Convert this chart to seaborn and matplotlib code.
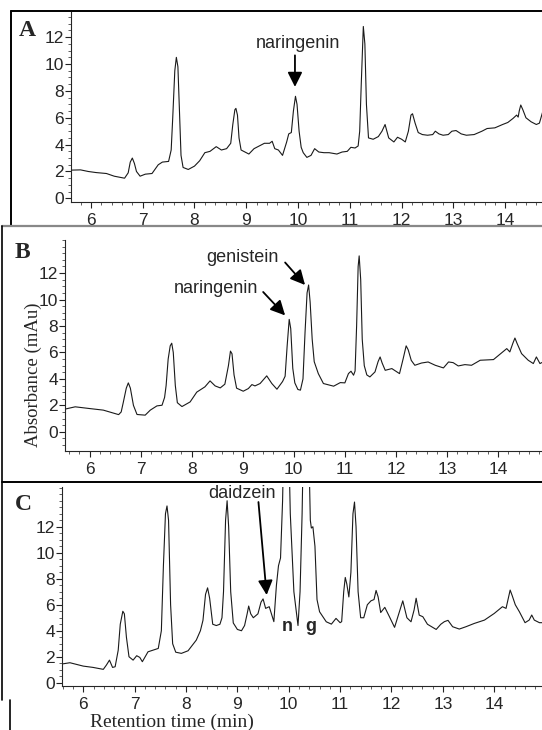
import seaborn as sns
import matplotlib.pyplot as plt
import pandas as pd
from matplotlib.lines import Line2D
from matplotlib.ticker import MultipleLocator

# Panel A - trace (retention time in min, absorbance in mAu)
a_time = [5.60, 5.80, 5.95, 6.10, 6.30, 6.45, 6.65, 6.72, 6.76, 6.80,
          6.84, 6.88, 6.95, 7.05, 7.18, 7.30, 7.38, 7.50, 7.55, 7.58,
          7.62, 7.65, 7.68, 7.71, 7.74, 7.78, 7.88, 8.00, 8.10, 8.20,
          8.30, 8.42, 8.52, 8.62, 8.70, 8.74, 8.78, 8.80, 8.83, 8.86,
          8.90, 9.00, 9.05, 9.15, 9.25, 9.35, 9.45, 9.50, 9.55, 9.62,
          9.70, 9.78, 9.82, 9.87, 9.91, 9.95, 9.98, 10.02, 10.06, 10.10,
          10.17, 10.25, 10.32, 10.40, 10.50, 10.60, 10.75, 10.85, 10.95, 11.02,
          11.10, 11.16, 11.19, 11.22, 11.26, 11.29, 11.32, 11.36, 11.45, 11.55,
          11.62, 11.68, 11.75, 11.85, 11.92, 12.00, 12.07, 12.13, 12.18, 12.21,
          12.26, 12.32, 12.40, 12.50, 12.60, 12.65, 12.72, 12.80, 12.90, 12.97,
          13.05, 13.15, 13.25, 13.40, 13.55, 13.65, 13.80, 13.95, 14.05, 14.15,
          14.22, 14.25, 14.27, 14.30, 14.34, 14.40, 14.50, 14.60, 14.66, 14.72]
a_abs = [2.10, 2.12, 2.00, 1.92, 1.85, 1.65, 1.50, 1.90, 2.70, 3.00,
         2.60, 2.00, 1.65, 1.80, 1.85, 2.50, 2.70, 2.75, 3.60, 6.00,
         9.50, 10.50, 9.80, 6.50, 3.20, 2.30, 2.15, 2.40, 2.80, 3.40,
         3.50, 3.85, 3.60, 3.70, 4.10, 5.50, 6.60, 6.70, 6.20, 4.50,
         3.60, 3.40, 3.30, 3.70, 3.90, 4.10, 4.10, 4.25, 3.70, 3.60,
         3.20, 4.20, 4.80, 4.90, 6.50, 7.60, 7.00, 5.00, 3.80, 3.40,
         3.05, 3.20, 3.70, 3.45, 3.40, 3.40, 3.30, 3.45, 3.50, 3.80,
         3.75, 3.90, 5.00, 8.50, 12.80, 11.50, 7.00, 4.50, 4.40, 4.60,
         5.00, 5.50, 4.50, 4.20, 4.55, 4.40, 4.20, 5.00, 6.20, 6.30,
         5.60, 4.90, 4.75, 4.70, 4.75, 5.00, 4.80, 4.70, 4.75, 5.00,
         5.05, 4.80, 4.70, 4.75, 5.00, 5.20, 5.25, 5.50, 5.65, 5.95,
         6.20, 6.05, 6.50, 6.95, 6.60, 6.00, 5.70, 5.50, 5.60, 6.40]

# Panel B - trace
b_time = [5.50, 5.72, 6.00, 6.27, 6.57, 6.62, 6.66, 6.72, 6.76, 6.80,
          6.86, 6.93, 7.09, 7.19, 7.32, 7.42, 7.47, 7.50, 7.54, 7.58,
          7.61, 7.64, 7.68, 7.72, 7.81, 7.97, 8.10, 8.26, 8.36, 8.46,
          8.56, 8.65, 8.72, 8.76, 8.79, 8.83, 8.88, 9.01, 9.11, 9.18,
          9.24, 9.34, 9.47, 9.57, 9.67, 9.78, 9.83, 9.87, 9.91, 9.94,
          9.98, 10.02, 10.08, 10.13, 10.18, 10.22, 10.26, 10.29, 10.32, 10.36,
          10.40, 10.48, 10.58, 10.78, 10.91, 11.00, 11.07, 11.12, 11.17, 11.20,
          11.23, 11.26, 11.28, 11.31, 11.34, 11.38, 11.43, 11.49, 11.59, 11.65,
          11.69, 11.73, 11.79, 11.92, 12.07, 12.14, 12.20, 12.24, 12.30, 12.37,
          12.50, 12.63, 12.77, 12.93, 13.03, 13.12, 13.22, 13.35, 13.48, 13.65,
          13.91, 14.17, 14.23, 14.29, 14.33, 14.37, 14.46, 14.59, 14.69, 14.75,
          14.82, 14.88]
b_abs = [1.70, 1.89, 1.76, 1.64, 1.30, 1.50, 2.20, 3.30, 3.70, 3.30,
         2.00, 1.31, 1.26, 1.64, 1.96, 2.01, 2.60, 3.50, 5.50, 6.50,
         6.70, 6.00, 3.50, 2.20, 1.91, 2.26, 3.00, 3.40, 3.85, 3.47,
         3.32, 3.60, 5.00, 6.10, 5.90, 4.30, 3.30, 3.07, 3.27, 3.57,
         3.47, 3.65, 4.23, 3.65, 3.22, 3.80, 4.20, 6.50, 8.50, 7.80,
         4.80, 3.70, 3.20, 3.15, 4.00, 7.50, 10.50, 11.10, 9.80, 7.00,
         5.30, 4.40, 3.65, 3.45, 3.72, 3.70, 4.40, 4.58, 4.28, 4.60,
         8.00, 12.50, 13.30, 11.50, 7.00, 5.00, 4.30, 4.15, 4.53, 5.30,
         5.66, 5.20, 4.65, 4.78, 4.40, 5.50, 6.50, 6.20, 5.40, 5.03,
         5.20, 5.28, 5.03, 4.83, 5.28, 5.23, 4.98, 5.08, 5.03, 5.41,
         5.46, 6.29, 6.04, 6.70, 7.09, 6.70, 5.91, 5.41, 5.16, 5.66,
         5.16, 5.28]

# Panel C - trace (n and g peaks run off the top of the axes)
c_time = [5.58, 5.74, 6.00, 6.19, 6.39, 6.45, 6.51, 6.57, 6.62, 6.68,
          6.72, 6.77, 6.80, 6.84, 6.89, 6.97, 7.04, 7.10, 7.15, 7.26,
          7.36, 7.46, 7.52, 7.56, 7.60, 7.63, 7.66, 7.70, 7.74, 7.80,
          7.91, 8.04, 8.20, 8.28, 8.33, 8.38, 8.42, 8.46, 8.52, 8.59,
          8.66, 8.70, 8.73, 8.77, 8.80, 8.83, 8.87, 8.92, 9.00, 9.08,
          9.14, 9.19, 9.22, 9.26, 9.31, 9.40, 9.46, 9.50, 9.55, 9.62,
          9.71, 9.76, 9.80, 9.84, 9.88, 9.92, 9.98, 10.03, 10.10, 10.18,
          10.22, 10.26, 10.30, 10.38, 10.42, 10.44, 10.47, 10.51, 10.55, 10.60,
          10.73, 10.83, 10.92, 11.00, 11.03, 11.07, 11.10, 11.13, 11.17, 11.21,
          11.25, 11.28, 11.31, 11.35, 11.40, 11.46, 11.53, 11.60, 11.66, 11.70,
          11.74, 11.79, 11.87, 11.96, 12.06, 12.15, 12.22, 12.30, 12.38, 12.44,
          12.48, 12.54, 12.61, 12.70, 12.87, 12.96, 13.03, 13.10, 13.19, 13.32,
          13.45, 13.61, 13.81, 14.00, 14.16, 14.23, 14.28, 14.31, 14.35, 14.41,
          14.49, 14.60, 14.68, 14.73, 14.78, 14.88, 14.95]
c_abs = [1.44, 1.54, 1.28, 1.18, 1.03, 1.36, 1.74, 1.18, 1.23, 2.50,
         4.50, 5.50, 5.30, 3.50, 2.00, 1.74, 2.08, 1.95, 1.62, 2.38,
         2.51, 2.64, 4.00, 9.00, 13.00, 13.60, 12.50, 6.00, 3.00, 2.35,
         2.26, 2.46, 3.28, 4.00, 4.80, 6.80, 7.30, 6.50, 4.50, 4.40,
         4.50, 5.00, 7.00, 12.50, 14.00, 12.00, 7.00, 4.60, 4.10, 4.00,
         4.40, 5.30, 5.90, 5.30, 5.00, 5.30, 6.20, 6.45, 5.72, 5.85,
         4.70, 7.50, 9.00, 9.60, 14.00, 22.00, 22.00, 13.00, 7.00, 4.40,
         7.00, 13.00, 22.00, 20.00, 12.50, 11.90, 12.00, 10.50, 6.40, 5.46,
         4.69, 4.51, 4.95, 4.62, 4.70, 7.00, 8.10, 7.60, 6.60, 8.50,
         13.00, 13.90, 12.00, 7.00, 5.00, 5.00, 6.00, 6.30, 6.40, 7.10,
         6.60, 5.40, 5.80, 5.08, 4.26, 5.40, 6.30, 5.00, 4.69, 5.60,
         6.50, 5.20, 5.08, 4.50, 4.10, 4.50, 4.70, 4.80, 4.31, 4.13,
         4.31, 4.56, 4.82, 5.33, 5.85, 5.72, 6.60, 7.13, 6.70, 6.00,
         5.46, 4.62, 4.82, 5.21, 4.82, 4.62, 4.62]

y_ticks = [0, 2, 4, 6, 8, 10, 12]
x_ticks = [6, 7, 8, 9, 10, 11, 12, 13, 14]

W, H = 542, 730
sns.set_style("ticks")
plt.rcParams['font.family'] = ['Liberation Sans', 'DejaVu Sans']

fig = plt.figure(figsize=(W / 100, H / 100), dpi=100)


def px_axes(left, top, bottom):
    # axes box in pixel coords, right edge runs to the border of the figure
    return fig.add_axes([left / W, 1 - bottom / H, (W - left) / W, (bottom - top) / H])


def trace(ax, t, a, xlim, ylim):
    df = pd.DataFrame({"time": t, "abs": a})
    sns.lineplot(data=df, x="time", y="abs", ax=ax, color="#1a1a1a", lw=0.8,
                 estimator=None, sort=False)
    ax.set_xlim(*xlim)
    ax.set_ylim(*ylim)
    ax.set_xticks(x_ticks)
    ax.set_yticks(y_ticks)
    ax.xaxis.set_minor_locator(MultipleLocator(0.2))
    ax.yaxis.set_minor_locator(MultipleLocator(0.5))
    ax.tick_params(which="major", length=4, width=0.8, labelsize=12.5, color="#222")
    ax.tick_params(axis="x", which="major", pad=4)
    ax.tick_params(axis="y", which="major", pad=1)
    ax.tick_params(which="minor", length=2.2, width=0.6, color="#444")
    for s in ["top", "right"]:
        ax.spines[s].set_visible(False)
    for s in ["left", "bottom"]:
        ax.spines[s].set_linewidth(0.8)
    ax.set_xlabel("")
    ax.set_ylabel("")
    ax.patch.set_alpha(0)


arrow = dict(arrowstyle="-|>", color="black", lw=1.3, mutation_scale=22, shrinkA=0, shrinkB=0)
txt = dict(fontsize=13, ha="center", va="center")

axA = px_axes(70.7, 11.7, 201.7)
trace(axA, a_time, a_abs, (5.61, 14.71), (-0.25, 13.9))
axA.text(10.0, 11.55, "naringenin", **txt)
axA.annotate("", xy=(9.94, 8.3), xytext=(9.94, 10.65), arrowprops=arrow)

axB = px_axes(65, 240, 451)
trace(axB, b_time, b_abs, (5.52, 14.86), (-1.45, 14.5))
axB.text(9.0, 13.2, "genistein", **txt)
axB.annotate("", xy=(10.22, 11.1), xytext=(9.83, 12.8), arrowprops=arrow)
axB.text(8.48, 10.82, "naringenin", **txt)
axB.annotate("", xy=(9.83, 8.8), xytext=(9.40, 10.57), arrowprops=arrow)

axC = px_axes(61.7, 486.7, 686)
trace(axC, c_time, c_abs, (5.58, 14.93), (-0.25, 15.08))
axC.text(9.09, 14.55, "daidzein", **txt)
axC.annotate("", xy=(9.57, 6.75), xytext=(9.41, 13.9), arrowprops=arrow)
axC.text(9.97, 4.3, "n", fontsize=13, fontweight="bold", ha="center", va="center")
axC.text(10.42, 4.3, "g", fontsize=13, fontweight="bold", ha="center", va="center")

serif = ["Liberation Serif", "DejaVu Serif"]
for lab, x, y in [("A", 27, 31), ("B", 22, 252), ("C", 23, 505)]:
    fig.text(x / W, 1 - y / H, lab, family=serif, fontsize=17, fontweight="bold",
             ha="center", va="center")
fig.text(33 / W, 1 - 375 / H, "Absorbance (mAu)", family=serif, fontsize=13.5,
         rotation=90, ha="center", va="center")
fig.text(172 / W, 1 - 722 / H, "Retention time (min)", family=serif, fontsize=14,
         ha="center", va="center")

# frame lines around the panels, in pixels
frame = [((11, 11), (11, 226), "black", 1.4),
         ((11, 542), (11, 11), "black", 1.4),
         ((2, 542), (226, 226), "#888", 1.6),
         ((2, 2), (226, 700), "black", 1.2),
         ((2, 542), (482, 482), "black", 1.4),
         ((10, 10), (700, 730), "black", 1.2)]
for xs, ys, c, lw in frame:
    fig.add_artist(Line2D([x / W for x in xs], [1 - y / H for y in ys], color=c, lw=lw))

fig.savefig("out.png", dpi=100)
